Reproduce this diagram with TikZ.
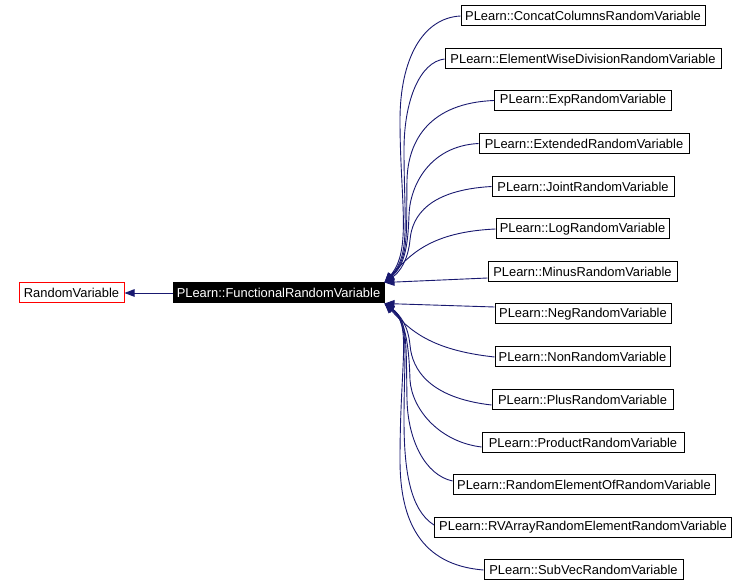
\documentclass[tikz,border=0pt]{standalone}
\usepackage{fontspec}
\setmainfont{Liberation Sans}
\usetikzlibrary{arrows.meta}
\definecolor{edgeblue}{HTML}{191970}
\tikzset{
  cls/.style={draw=black, line width=1pt, minimum height=20pt, inner sep=0pt, font=\fontsize{12.9}{15}\selectfont},
  edge/.style={draw=edgeblue, line width=0.9pt, -{Triangle[length=10pt,width=7.5pt]}, fill=none},
}
\begin{document}
\begin{tikzpicture}[x=1pt,y=-1pt]
\useasboundingbox (0,0) rectangle (748,585);
\node[cls, draw=red, minimum width=105pt] (rv) at (71.5,293) {RandomVariable};
\node[cls, fill=black, text=white, minimum width=211pt] (fun) at (278.5,293) {PLearn::FunctionalRandomVariable};
\node[cls, minimum width=244pt] (c1) at (583,16) {PLearn::ConcatColumnsRandomVariable};
\node[cls, minimum width=276pt] (c2) at (583,59) {PLearn::ElementWiseDivisionRandomVariable};
\node[cls, minimum width=177pt] (c3) at (583,100.5) {PLearn::ExpRandomVariable};
\node[cls, minimum width=210pt] (c4) at (584,143.5) {PLearn::ExtendedRandomVariable};
\node[cls, minimum width=182pt] (c5) at (583,186.5) {PLearn::JointRandomVariable};
\node[cls, minimum width=173pt] (c6) at (582.5,229) {PLearn::LogRandomVariable};
\node[cls, minimum width=189pt] (c7) at (582.5,272) {PLearn::MinusRandomVariable};
\node[cls, minimum width=176pt] (c8) at (583,314) {PLearn::NegRandomVariable};
\node[cls, minimum width=175pt] (c9) at (582.5,357) {PLearn::NonRandomVariable};
\node[cls, minimum width=181pt] (c10) at (582.5,400) {PLearn::PlusRandomVariable};
\node[cls, minimum width=202pt] (c11) at (583,442.5) {PLearn::ProductRandomVariable};
\node[cls, minimum width=262pt] (c12) at (584,485) {PLearn::RandomElementOfRandomVariable};
\node[cls, minimum width=297pt] (c13) at (583,527.5) {PLearn::RVArrayRandomElementRandomVariable};
\node[cls, minimum width=199pt] (c14) at (583.5,570) {PLearn::SubVecRandomVariable};

\draw[edge] (fun.west) -- (rv.east);

\draw[edge] (c1.west) .. controls (422,18) and (400,60) .. (400,120) .. controls (400,200) and (412,250) .. (fun.north east);
\draw[edge] (c2.west) .. controls (420,62) and (404,100) .. (404,150) .. controls (404,220) and (411,255) .. (fun.north east);
\draw[edge] (c3.west) .. controls (430,103) and (408,140) .. (407,180) .. controls (406,230) and (410,258) .. (fun.north east);
\draw[edge] (c4.west) .. controls (430,146) and (410,185) .. (409,215) .. controls (408,245) and (405,265) .. (fun.north east);
\draw[edge] (c5.west) .. controls (430,190) and (412,215) .. (410,240) .. controls (408,260) and (400,272) .. (fun.north east);
\draw[edge] (c6.west) .. controls (430,232) and (410,255) .. (fun.north east);
\draw[edge] ([yshift=-6pt]c7.west) -- (fun.north east);
\draw[edge] ([yshift=7pt]c8.west) -- (fun.south east);
\draw[edge] (c9.west) .. controls (430,350) and (410,330) .. (fun.south east);
\draw[edge] ([yshift=-5pt]c10.west) .. controls (430,398) and (412,370) .. (410,345) .. controls (408,325) and (400,315) .. (fun.south east);
\draw[edge] ([yshift=-4.5pt]c11.west) .. controls (440,442) and (412,410) .. (410,380) .. controls (409,345) and (405,318) .. (fun.south east);
\draw[edge] ([yshift=4pt]c12.west) .. controls (425,475) and (408,440) .. (407,400) .. controls (406,345) and (408,320) .. (fun.south east);
\draw[edge] ([yshift=2.5pt]c13.west) .. controls (410,510) and (404,470) .. (404,420) .. controls (404,350) and (410,325) .. (fun.south east);
\draw[edge] (c14.west) .. controls (420,565) and (400,520) .. (400,460) .. controls (400,360) and (412,325) .. (fun.south east);
\end{tikzpicture}
\end{document}
